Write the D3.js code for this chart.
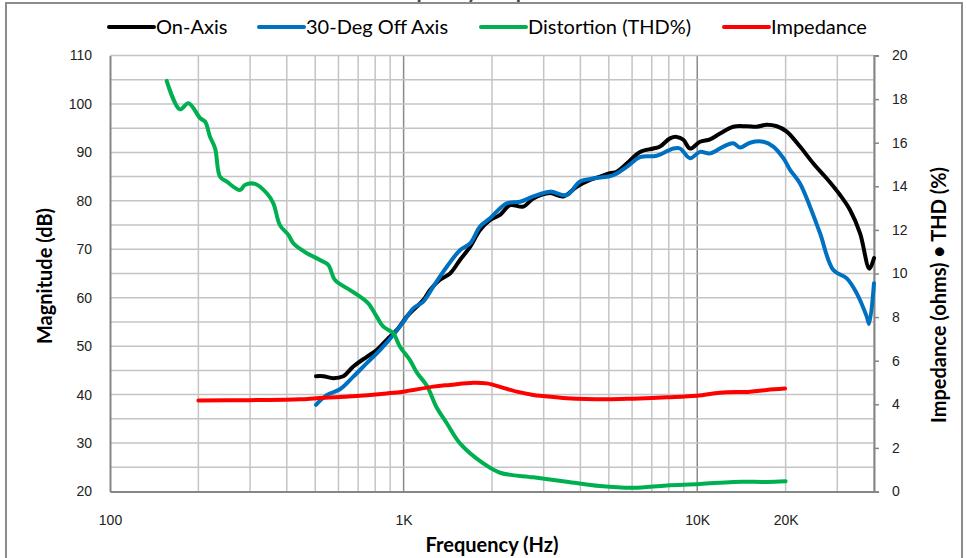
<!DOCTYPE html>
<html>
<head>
<meta charset="utf-8">
<script src="https://cdn.jsdelivr.net/npm/d3@7"></script>
<style>
  body { margin: 0; background: #fff; }
  svg { display: block; font-family: Lato, "Open Sans", sans-serif; }
  .tick text { font-size: 14px; fill: #222; }
</style>
</head>
<body>
<svg id="chart" width="967" height="558"></svg>
<script>
// series values
var onAxisFreq = [503, 533, 576, 623, 674, 749, 810, 876, 947, 1025, 1079, 1167, 1230, 1330, 1439, 1556, 1684, 1821, 1969, 2130, 2304, 2557, 2765, 3152, 3499, 3887, 4314, 4666, 5047, 5319, 5753, 6385, 7088, 7470, 8080, 8516, 8969, 9451, 10220, 11060, 11960, 13270, 14740, 15950, 17250, 18660, 20180, 22390, 24860, 27620, 30650, 33150, 35860, 38570, 40000];
var onAxisDb = [43.8, 43.8, 43.4, 43.8, 45.8, 47.8, 49.2, 51.3, 53.3, 56.1, 57.5, 59.5, 61.6, 63.7, 65.0, 67.8, 70.5, 74.0, 76.0, 77.1, 79.1, 78.8, 80.5, 81.6, 80.9, 82.9, 84.3, 85.0, 85.7, 86.0, 87.7, 90.1, 90.8, 91.2, 92.9, 93.2, 92.6, 90.8, 92.2, 92.7, 93.9, 95.3, 95.4, 95.3, 95.7, 95.4, 94.3, 91.2, 87.7, 84.6, 81.2, 78.1, 73.3, 66.0, 68.2];

var offAxisFreq = [503, 547, 607, 674, 749, 831, 922, 998, 1079, 1167, 1262, 1403, 1556, 1684, 1821, 1969, 2245, 2492, 2765, 3152, 3594, 3989, 4427, 5180, 5753, 6385, 7280, 8292, 8739, 9451, 10220, 11060, 12270, 13270, 13990, 15130, 16800, 18160, 19650, 20710, 22390, 24220, 26200, 29080, 32310, 34940, 37790, 38500, 40000];
var offAxisDb = [37.9, 39.9, 41.1, 43.7, 46.5, 49.2, 52.3, 55.0, 57.8, 59.2, 62.3, 66.4, 69.8, 71.2, 74.7, 76.4, 79.5, 79.8, 80.9, 81.9, 81.2, 84.0, 84.6, 85.3, 87.0, 89.0, 89.3, 90.8, 90.8, 88.8, 90.1, 89.8, 91.2, 91.9, 91.0, 92.0, 92.2, 91.2, 88.8, 86.4, 83.6, 78.8, 73.3, 65.7, 64.0, 60.9, 56.1, 54.6, 63.0];

var thdFreq = [156, 173, 185, 203, 211, 219, 228, 237, 250, 277, 288, 312, 342, 360, 379, 405, 421, 450, 468, 519, 554, 584, 657, 710, 758, 810, 853, 922, 972, 1051, 1110, 1200, 1296, 1403, 1556, 1868, 2130, 2765, 3594, 4666, 6059, 7873, 10220, 13270, 17250, 20000];
var thdPct = [18.84, 17.53, 17.81, 17.12, 16.96, 16.28, 15.74, 14.44, 14.21, 13.83, 14.06, 14.11, 13.68, 13.22, 12.22, 11.77, 11.39, 11.08, 10.93, 10.62, 10.39, 9.70, 9.24, 8.94, 8.63, 8.02, 7.56, 7.26, 6.64, 6.03, 5.45, 4.85, 3.85, 3.13, 2.21, 1.29, 0.86, 0.65, 0.45, 0.25, 0.17, 0.28, 0.34, 0.44, 0.44, 0.47];

var impFreq = [200, 300, 444, 506, 650, 876, 998, 1262, 1439, 1728, 1919, 2021, 2428, 2765, 2991, 3594, 4918, 6059, 7873, 9960, 11960, 15130, 17250, 19910];
var impOhms = [4.17, 4.19, 4.23, 4.28, 4.36, 4.50, 4.58, 4.81, 4.89, 4.99, 4.96, 4.89, 4.58, 4.43, 4.38, 4.28, 4.23, 4.26, 4.32, 4.39, 4.53, 4.58, 4.66, 4.72];

var xTickVals = [100, 1000, 10000, 20000];
var xTickLabels = ["100", "1K", "10K", "20K"];
var leftTicks = d3.range(20, 111, 10);
var rightTicks = d3.range(0, 21, 2);

var seriesNames = ["On-Axis", "30-Deg Off Axis", "Distortion (THD%)", "Impedance"];
var seriesColors = ["#000000", "#0070c0", "#00b050", "#ff0000"];

var svg = d3.select("#chart");

var x = d3.scaleLog().domain([100, 40000]).range([110, 874]);
var yL = d3.scaleLinear().domain([20, 110]).range([491.5, 55.5]);
var yR = d3.scaleLinear().domain([0, 20]).range([491.5, 55.5]);

// title, mostly cut off above the frame (as in the original)
svg.append("text")
    .attr("x", 476).attr("y", -2)
    .attr("text-anchor", "middle")
    .style("font-size", "21px").style("font-weight", "bold").style("fill", "#444")
    .text("Frequency Response");

// chart frame
svg.append("rect")
    .attr("x", 6).attr("y", 3).attr("width", 956).attr("height", 560)
    .attr("fill", "none").attr("stroke", "#8c8c8c").attr("stroke-width", 2);

// grid
var grid = svg.append("g");
var vLines = [];
[100, 1000, 10000].forEach(function(d) {
    for (var k = 1; k <= 9; k++) if (d * k <= 40000 && d * k > 100) vLines.push(d * k);
});
grid.selectAll(".vg").data(vLines).enter().append("line")
    .attr("x1", function(d) { return x(d); }).attr("x2", function(d) { return x(d); })
    .attr("y1", yL(110)).attr("y2", yL(20))
    .attr("stroke", function(d) { return (d == 1000 || d == 10000) ? "#8a8a8a" : "#c4c4c4"; })
    .attr("stroke-width", 1.5);
grid.selectAll(".hg").data(d3.range(25, 111, 5)).enter().append("line")
    .attr("x1", 110).attr("x2", 874)
    .attr("y1", function(d) { return yL(d); }).attr("y2", function(d) { return yL(d); })
    .attr("stroke", "#c4c4c4").attr("stroke-width", 1.5);

// axes
var xAxis = svg.append("g").attr("transform", "translate(0,491.5)")
    .call(d3.axisBottom(x).tickValues(xTickVals)
        .tickFormat(function(d, i) { return xTickLabels[i]; })
        .tickSize(0).tickPadding(24));
xAxis.select(".domain").attr("stroke", "#868686").attr("stroke-width", 2);

var leftAxis = svg.append("g").attr("transform", "translate(110,0)")
    .call(d3.axisLeft(yL).tickValues(leftTicks).tickSize(0).tickPadding(18));
leftAxis.select(".domain").attr("stroke", "#868686").attr("stroke-width", 2);

var rightAxis = svg.append("g").attr("transform", "translate(874,0)")
    .call(d3.axisRight(yR).tickValues(rightTicks).tickSize(5).tickPadding(13));
rightAxis.select(".domain").attr("stroke", "#868686").attr("stroke-width", 2);
rightAxis.selectAll(".tick line").attr("stroke", "#868686").attr("stroke-width", 1.5);

// axis titles
svg.append("text")
    .attr("transform", "translate(52,276) rotate(-90)")
    .attr("text-anchor", "middle")
    .style("font-size", "20px").style("font-weight", "bold")
    .text("Magnitude (dB)");
svg.append("text")
    .attr("transform", "translate(946,295) rotate(-90)")
    .attr("text-anchor", "middle")
    .style("font-size", "20px").style("font-weight", "bold")
    .text("Impedance (ohms) \u2022 THD (%)");
svg.append("text")
    .attr("x", 492).attr("y", 552)
    .attr("text-anchor", "middle")
    .style("font-size", "20px").style("font-weight", "bold")
    .text("Frequency (Hz)");

// series
function drawSeries(freqs, vals, yScale, color) {
    var pts = freqs.map(function(f, i) { return [f, vals[i]]; });
    var line = d3.line()
        .x(function(d) { return x(d[0]); })
        .y(function(d) { return yScale(d[1]); })
        .curve(d3.curveCatmullRom.alpha(0.5));
    svg.append("path").datum(pts)
        .attr("d", line)
        .attr("fill", "none")
        .attr("stroke", color)
        .attr("stroke-width", 4)
        .attr("stroke-linejoin", "round")
        .attr("stroke-linecap", "round");
}
drawSeries(onAxisFreq, onAxisDb, yL, seriesColors[0]);
drawSeries(offAxisFreq, offAxisDb, yL, seriesColors[1]);
drawSeries(thdFreq, thdPct, yR, seriesColors[2]);
drawSeries(impFreq, impOhms, yR, seriesColors[3]);

// legend
var legendX = [109, 259, 481, 724];
var legend = svg.append("g");
seriesNames.forEach(function(name, i) {
    legend.append("line")
        .attr("x1", legendX[i]).attr("x2", legendX[i] + 45)
        .attr("y1", 27).attr("y2", 27)
        .attr("stroke", seriesColors[i]).attr("stroke-width", 4)
        .attr("stroke-linecap", "round");
    legend.append("text")
        .attr("x", legendX[i] + 47).attr("y", 34)
        .style("font-size", "20px")
        .text(name);
});
</script>
</body>
</html>
